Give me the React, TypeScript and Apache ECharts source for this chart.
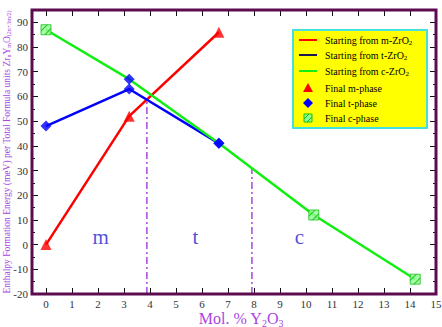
import React, { useEffect, useRef } from "react";
import * as echarts from "echarts";

// Mol. % Y2O3 at each computed composition
const molM = [0, 3.2, 6.65];
const molT = [0, 3.2, 6.65];
const molC = [0, 3.2, 6.65, 10.3, 14.2];

// Enthalpy of formation (meV per formula unit), one array per starting phase
const energyFromM = [0, 52, 86];
const energyFromT = [48, 63, 41];
const energyFromC = [87, 67, 41, 12, -14];

// Final phase reached at each point
const finalFromM = ["m", "m", "m"];
const finalFromT = ["t", "t", "t"];
const finalFromC = ["c", "t", "t", "c", "c"];

// Phase boundaries (mol. %) and the energy where each boundary line stops
const boundaryMol = [3.88, 7.92];
const boundaryTop = [58.7, 31];

// Phase-region labels
const regionNames = ["m", "t", "c"];
const regionMol = [2.1, 5.75, 9.75];
const regionEnergy = [3, 3, 3];

const SERIF = '"Liberation Serif", "DejaVu Serif", serif';
const FRAME = "#5c0c4e";
const VIOLET = "#a646e0";
const RED = "#ff0000";
const BLUE = "#0000ff";
const GREEN = "#11ee11";
const HATCH_FILL = "#8cff8c";
const HATCH_LINE = "#19b019";

// plot area: the frame sits a little left of x = 0
const FRAME_LEFT = 32;
const GRID_LEFT = 46;
const GRID_RIGHT = 6;
const GRID_TOP = 10;
const GRID_BOTTOM = 33;
const W = 442;
const H = 327;

// square marker and its diagonal stripes (same 10x10 box so they overlay)
const SQUARE_PATH = "path://M0,0L10,0L10,10L0,10Z";
const STRIPES_PATH =
  "path://M0,0L0.01,0L0,0.01Z M0,5.5L5.5,0L7,0L0,7Z M3,10L10,3L10,4.5L4.5,10Z M10,10L9.99,10L10,9.99Z";

const markerStyle: Record<string, any> = {
  m: { symbol: "triangle", symbolSize: 11, itemStyle: { color: RED } },
  t: { symbol: "diamond", symbolSize: 11, itemStyle: { color: BLUE } },
  c: {
    symbol: SQUARE_PATH,
    symbolSize: 10,
    itemStyle: { color: HATCH_FILL, borderColor: "#19c019", borderWidth: 1 },
  },
};

function pairs(xs: number[], ys: number[]) {
  return xs.map((x, i) => [x, ys[i]]);
}

function markersOf(phase: string) {
  const pts: number[][] = [];
  const groups: [number[], number[], string[]][] = [
    [molM, energyFromM, finalFromM],
    [molT, energyFromT, finalFromT],
    [molC, energyFromC, finalFromC],
  ];
  groups.forEach(([xs, ys, ph]) => {
    xs.forEach((x, i) => {
      if (ph[i] === phase) pts.push([x, ys[i]]);
    });
  });
  return pts;
}

const legendRows = [
  { kind: "line", color: RED, text: "{a|Starting from m-ZrO}{s|2}" },
  { kind: "line", color: "#1a1a50", text: "{a|Starting from t-ZrO}{s|2}" },
  { kind: "line", color: GREEN, text: "{a|Starting from c-ZrO}{s|2}" },
  { kind: "tri", color: RED, text: "{a|Final m-phase}" },
  { kind: "dia", color: BLUE, text: "{a|Final t-phase}" },
  { kind: "sq", color: GREEN, text: "{a|Final c-phase}" },
];
const legendRowY = [40, 55, 71, 88, 103, 118];

function legendGraphics() {
  const els: any[] = [
    {
      type: "rect",
      shape: { x: 293, y: 30, width: 134, height: 98 },
      style: { fill: "#ffff00", stroke: "#44e0e0", lineWidth: 2 },
      z: 100,
    },
  ];
  legendRows.forEach((row, i) => {
    const y = legendRowY[i];
    const cx = 308;
    if (row.kind === "line") {
      els.push({
        type: "line",
        shape: { x1: 299, y1: y, x2: 317, y2: y },
        style: { stroke: row.color, lineWidth: 2 },
        z: 101,
      });
    } else if (row.kind === "tri") {
      els.push({
        type: "polygon",
        shape: { points: [[cx, y - 5], [cx + 5, y + 4], [cx - 5, y + 4]] },
        style: { fill: row.color },
        z: 101,
      });
    } else if (row.kind === "dia") {
      els.push({
        type: "polygon",
        shape: { points: [[cx, y - 5], [cx + 5, y], [cx, y + 5], [cx - 5, y]] },
        style: { fill: row.color },
        z: 101,
      });
    } else {
      els.push({
        type: "rect",
        shape: { x: cx - 4, y: y - 4, width: 8, height: 8 },
        style: { fill: HATCH_FILL, stroke: "#19c019", lineWidth: 1 },
        z: 101,
      });
      els.push({
        type: "line",
        shape: { x1: cx - 4, y1: y + 1, x2: cx + 1, y2: y - 4 },
        style: { stroke: HATCH_LINE, lineWidth: 1 },
        z: 102,
      });
      els.push({
        type: "line",
        shape: { x1: cx - 1, y1: y + 4, x2: cx + 4, y2: y - 1 },
        style: { stroke: HATCH_LINE, lineWidth: 1 },
        z: 102,
      });
    }
    els.push({
      type: "text",
      x: 325,
      y,
      z: 101,
      style: {
        text: row.text,
        verticalAlign: "middle",
        fill: "#000",
        rich: {
          a: { fontFamily: SERIF, fontSize: 10, fill: "#000" },
          s: { fontFamily: SERIF, fontSize: 7, padding: [6, 0, 0, 0], fill: "#000" },
        },
      },
    });
  });
  return els;
}

export default function App() {
  const ref = useRef<HTMLDivElement>(null);

  useEffect(() => {
    if (!ref.current) return;
    const chart = echarts.init(ref.current, null, { renderer: "svg" });

    const yOffset = GRID_LEFT - FRAME_LEFT;
    const tick = (len: number) => ({
      inside: true,
      length: len,
      lineStyle: { color: "#111", width: 1 },
    });
    const baseX = {
      type: "value",
      min: 0,
      max: 15,
      interval: 1,
      splitLine: { show: false },
      axisLine: { show: false, onZero: false },
      axisTick: tick(6),
    };
    const baseY = {
      type: "value",
      min: -20,
      max: 95,
      splitLine: { show: false },
      axisLine: { show: false, onZero: false },
    };

    chart.setOption({
      animation: false,
      backgroundColor: "#ffffff",
      grid: {
        left: GRID_LEFT,
        right: GRID_RIGHT,
        top: GRID_TOP,
        bottom: GRID_BOTTOM,
        containLabel: false,
        outerBoundsMode: "none",
      },
      xAxis: [
        {
          ...baseX,
          position: "bottom",
          axisLabel: {
            margin: 4,
            fontFamily: SERIF,
            fontSize: 11,
            color: "#333",
            showMaxLabel: true,
          },
          name: "{a|Mol. % Y}{s|2}{a|O}{s|3}",
          nameLocation: "middle",
          nameGap: 15,
          nameMoveOverlap: false,
          nameTextStyle: {
            rich: {
              a: { fontFamily: SERIF, fontSize: 16, color: VIOLET },
              s: { fontFamily: SERIF, fontSize: 10, color: VIOLET, padding: [9, 0, 0, 0] },
            },
          },
        },
        {
          ...baseX,
          position: "top",
          axisLabel: { show: false },
        },
      ],
      yAxis: [
        {
          ...baseY,
          position: "left",
          offset: yOffset,
          interval: 10,
          axisTick: tick(6),
          axisLabel: {
            margin: 4,
            fontFamily: SERIF,
            fontSize: 11,
            color: "#333",
            formatter: (v: number) => (Math.round(v) % 10 === 0 ? String(Math.round(v)) : ""),
          },
          name:
            "{a|Enthalpy Formation Energy (meV) per Total Formula units Zr}{s|n}{a|Y}{s|m}{a|O}{s|(2n+3m/2)}",
          nameLocation: "middle",
          nameGap: 20,
          nameMoveOverlap: false,
          nameTextStyle: {
            rich: {
              a: { fontFamily: SERIF, fontSize: 9.5, color: VIOLET },
              s: { fontFamily: SERIF, fontSize: 6, color: VIOLET, padding: [5, 0, 0, 0] },
            },
          },
        },
        {
          ...baseY,
          position: "left",
          offset: yOffset,
          interval: 5,
          axisTick: tick(3),
          axisLabel: { show: false },
        },
        {
          ...baseY,
          position: "right",
          interval: 10,
          axisTick: tick(6),
          axisLabel: { show: false },
        },
        {
          ...baseY,
          position: "right",
          interval: 5,
          axisTick: tick(3),
          axisLabel: { show: false },
        },
      ],
      graphic: [
        {
          type: "rect",
          shape: {
            x: FRAME_LEFT,
            y: GRID_TOP,
            width: W - GRID_RIGHT - FRAME_LEFT,
            height: H - GRID_TOP - GRID_BOTTOM,
          },
          style: { fill: "none", stroke: FRAME, lineWidth: 3 },
          z: 50,
          silent: true,
        },
        ...legendGraphics(),
      ],
      series: [
        ...boundaryMol.map((x, i) => ({
          type: "line",
          data: [
            [x, -20],
            [x, boundaryTop[i]],
          ],
          symbol: "none",
          lineStyle: { color: VIOLET, width: 1.5, type: [7, 3, 2, 3] },
          z: 1,
        })),
        {
          type: "line",
          name: "Starting from m-ZrO2",
          data: pairs(molM, energyFromM),
          symbol: "none",
          lineStyle: { color: RED, width: 2.5 },
          z: 2,
        },
        {
          type: "line",
          name: "Starting from t-ZrO2",
          data: pairs(molT, energyFromT),
          symbol: "none",
          lineStyle: { color: BLUE, width: 2.5 },
          z: 3,
        },
        {
          type: "line",
          name: "Starting from c-ZrO2",
          data: pairs(molC, energyFromC),
          symbol: "none",
          lineStyle: { color: GREEN, width: 2.5 },
          z: 4,
        },
        ...["m", "t", "c"].map((ph) => ({
          type: "scatter",
          name: "Final " + ph + "-phase",
          data: markersOf(ph),
          ...markerStyle[ph],
          z: 5,
        })),
        {
          type: "scatter",
          data: markersOf("c"),
          symbol: STRIPES_PATH,
          symbolSize: 10,
          itemStyle: { color: HATCH_LINE },
          silent: true,
          z: 6,
        },
        {
          type: "scatter",
          data: regionMol.map((x, i) => ({ value: [x, regionEnergy[i]], name: regionNames[i] })),
          symbolSize: 0,
          label: {
            show: true,
            position: "inside",
            formatter: (p: any) => p.name,
            fontFamily: SERIF,
            fontSize: 21,
            color: "#1c1cd0",
          },
          z: 6,
        },
      ],
    });

    return () => chart.dispose();
  }, []);

  return (
    <div
      ref={ref}
      style={{ position: "fixed", left: 0, top: 0, width: W, height: H }}
    />
  );
}
